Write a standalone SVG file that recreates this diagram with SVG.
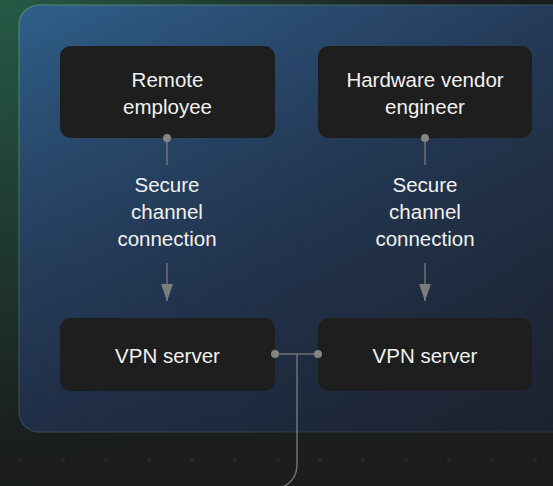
<svg xmlns="http://www.w3.org/2000/svg" width="553" height="486" viewBox="0 0 553 486">
  <defs>
    <radialGradient id="bgGlow" cx="0" cy="0" r="520" gradientUnits="userSpaceOnUse">
      <stop offset="0" stop-color="#255a45"/>
      <stop offset="0.45" stop-color="#1f3a2f"/>
      <stop offset="0.85" stop-color="#1b1e1e"/>
      <stop offset="1" stop-color="#1b1d1e"/>
    </radialGradient>
    <linearGradient id="panelBase" x1="0" y1="0" x2="1" y2="1">
      <stop offset="0" stop-color="#2f5f8a"/>
      <stop offset="0.5" stop-color="#243a58"/>
      <stop offset="1" stop-color="#1d2128"/>
    </linearGradient>
    <linearGradient id="panelShade" x1="0" y1="0" x2="0" y2="1">
      <stop offset="0" stop-color="#1c2a3a" stop-opacity="0"/>
      <stop offset="1" stop-color="#1b2235" stop-opacity="0.5"/>
    </linearGradient>
    <linearGradient id="panelStroke" x1="0" y1="0" x2="1" y2="1">
      <stop offset="0" stop-color="#5a8a78" stop-opacity="0.7"/>
      <stop offset="0.5" stop-color="#3e5a60" stop-opacity="0.5"/>
      <stop offset="1" stop-color="#2c3136" stop-opacity="0.6"/>
    </linearGradient>
    <marker id="arrow" viewBox="0 0 17 12" refX="17" refY="6" markerWidth="17" markerHeight="12" markerUnits="userSpaceOnUse" orient="auto">
      <path d="M0 0 L17 6 L0 12 Z" fill="#7c7c7c"/>
    </marker>
  </defs>
  <style>
    .box { fill: #1e1e1e; }
    .txt { font-family: "Liberation Sans", Arial, sans-serif; font-size: 20.5px; fill: #f2f2f2; text-anchor: middle; }
    .line { stroke: #727272; stroke-width: 1.5; fill: none; }
    .dot { fill: #858585; }
    .grid { fill: #252729; }
  </style>

  <!-- background -->
  <rect x="0" y="0" width="553" height="486" fill="#1b1d1e"/>
  <rect x="0" y="0" width="553" height="486" fill="url(#bgGlow)"/>
  <g id="grid">
    <circle class="grid" cx="20" cy="460" r="2.2"/>
    <circle class="grid" cx="63" cy="460" r="2.2"/>
    <circle class="grid" cx="106" cy="460" r="2.2"/>
    <circle class="grid" cx="149" cy="460" r="2.2"/>
    <circle class="grid" cx="192" cy="460" r="2.2"/>
    <circle class="grid" cx="235" cy="460" r="2.2"/>
    <circle class="grid" cx="278" cy="460" r="2.2"/>
    <circle class="grid" cx="320" cy="460" r="2.2"/>
    <circle class="grid" cx="363" cy="460" r="2.2"/>
    <circle class="grid" cx="406" cy="460" r="2.2"/>
    <circle class="grid" cx="449" cy="460" r="2.2"/>
    <circle class="grid" cx="492" cy="460" r="2.2"/>
    <circle class="grid" cx="535" cy="460" r="2.2"/>
  </g>

  <!-- panel -->
  <g id="panel">
    <rect x="19" y="5" width="560" height="427" rx="20" fill="url(#panelBase)"/>
    <rect x="19" y="5" width="560" height="427" rx="20" fill="url(#panelShade)"/>
    <rect x="19" y="5" width="560" height="427" rx="20" fill="none" stroke="url(#panelStroke)" stroke-width="1.5"/>
  </g>

  <!-- connectors -->
  <g id="connectors">
    <line class="line" x1="167" y1="138" x2="167" y2="165"/>
    <line class="line" x1="167" y1="263" x2="167" y2="301" marker-end="url(#arrow)"/>
    <line class="line" x1="425" y1="138" x2="425" y2="165"/>
    <line class="line" x1="425" y1="263" x2="425" y2="301" marker-end="url(#arrow)"/>
    <line class="line" x1="275" y1="354" x2="318" y2="354"/>
    <path class="line" d="M297 354 V464 Q297 482 280 488"/>
  </g>

  <g id="n_remote">
    <rect class="box" x="60" y="46" width="215" height="92" rx="11"/>
    <text class="txt" x="167.5" y="87">Remote</text>
    <text class="txt" x="167.5" y="114">employee</text>
    <circle class="dot" cx="167" cy="138" r="4"/>
  </g>
  <g id="n_vendor">
    <rect class="box" x="318" y="46" width="214" height="92" rx="11"/>
    <text class="txt" x="425" y="87">Hardware vendor</text>
    <text class="txt" x="425" y="114">engineer</text>
    <circle class="dot" cx="425" cy="138" r="4"/>
  </g>
  <g id="n_vpn1">
    <rect class="box" x="60" y="318" width="215" height="73" rx="11"/>
    <text class="txt" x="167.5" y="363">VPN server</text>
    <circle class="dot" cx="275" cy="354" r="4"/>
  </g>
  <g id="n_vpn2">
    <rect class="box" x="318" y="318" width="214" height="73" rx="11"/>
    <text class="txt" x="425" y="363">VPN server</text>
    <circle class="dot" cx="318" cy="354" r="4"/>
  </g>

  <g id="labels">
    <text class="txt" x="167" y="192">Secure</text>
    <text class="txt" x="167" y="219">channel</text>
    <text class="txt" x="167" y="246">connection</text>
    <text class="txt" x="425" y="192">Secure</text>
    <text class="txt" x="425" y="219">channel</text>
    <text class="txt" x="425" y="246">connection</text>
  </g>
</svg>
